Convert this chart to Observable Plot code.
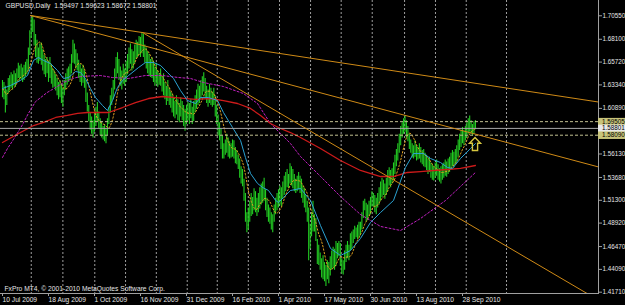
<!DOCTYPE html>
<html><head><meta charset="utf-8">
<script src="https://cdn.jsdelivr.net/npm/d3@7"></script>
<script src="https://cdn.jsdelivr.net/npm/@observablehq/plot@0.6"></script>
<style>html,body{margin:0;padding:0;background:#000;overflow:hidden}</style>
</head><body><div id="chart"></div>
<script>
// ---- data ----
const highs = [
1.638,1.636,1.632,1.628,1.640,1.643,1.646,1.644,1.648,1.645,
1.650,1.656,1.653,1.655,1.651,1.654,1.657,1.660,1.672,1.690,
1.703,1.705,1.701,1.686,1.680,1.672,1.676,1.677,1.670,1.664,
1.660,1.662,1.658,1.662,1.655,1.650,1.648,1.644,1.640,1.636,
1.638,1.634,1.630,1.638,1.645,1.650,1.652,1.655,1.665,1.680,
1.676,1.670,1.666,1.659,1.655,1.650,1.654,1.648,1.638,1.625,
1.612,1.604,1.600,1.596,1.603,1.610,1.615,1.605,1.598,1.595,
1.590,1.592,1.588,1.598,1.610,1.622,1.630,1.638,1.650,1.662,
1.667,1.660,1.652,1.648,1.655,1.650,1.658,1.665,1.672,1.676,
1.670,1.668,1.675,1.680,1.678,1.684,1.683,1.688,1.686,1.675,
1.672,1.668,1.665,1.660,1.662,1.658,1.652,1.656,1.648,1.645,
1.650,1.642,1.645,1.636,1.632,1.638,1.630,1.626,1.624,1.620,
1.616,1.622,1.618,1.614,1.620,1.616,1.612,1.608,1.612,1.615,
1.614,1.618,1.610,1.616,1.622,1.628,1.634,1.632,1.638,1.642,
1.646,1.640,1.632,1.628,1.634,1.630,1.626,1.630,1.622,1.612,
1.602,1.594,1.588,1.580,1.572,1.576,1.582,1.578,1.574,1.572,
1.576,1.575,1.568,1.565,1.560,1.556,1.548,1.545,1.535,1.520,
1.500,1.505,1.512,1.520,1.516,1.525,1.522,1.515,1.520,1.526,
1.530,1.532,1.536,1.524,1.515,1.508,1.505,1.500,1.498,1.508,
1.515,1.520,1.524,1.528,1.526,1.532,1.538,1.542,1.545,1.540,
1.551,1.548,1.545,1.540,1.535,1.538,1.542,1.538,1.535,1.528,
1.525,1.518,1.512,1.505,1.488,1.500,1.512,1.498,1.494,1.472,
1.466,1.458,1.452,1.455,1.448,1.445,1.450,1.448,1.454,1.460,
1.464,1.462,1.470,1.468,1.470,1.468,1.452,1.450,1.460,1.466,
1.470,1.466,1.478,1.480,1.482,1.486,1.484,1.487,1.490,1.490,
1.500,1.512,1.514,1.510,1.508,1.512,1.516,1.522,1.520,1.518,
1.515,1.520,1.526,1.532,1.536,1.534,1.530,1.536,1.544,1.547,
1.544,1.546,1.552,1.560,1.566,1.572,1.582,1.590,1.594,1.598,
1.601,1.596,1.590,1.582,1.576,1.572,1.570,1.575,1.570,1.568,
1.572,1.568,1.565,1.566,1.562,1.560,1.556,1.558,1.552,1.550,
1.548,1.552,1.555,1.550,1.546,1.548,1.550,1.552,1.555,1.553,
1.556,1.558,1.562,1.565,1.563,1.566,1.570,1.576,1.582,1.586,
1.589,1.585,1.590,1.594,1.598,1.601,1.596,1.592,1.595,1.59623];
const lows = [
1.620,1.618,1.604,1.612,1.624,1.627,1.630,1.628,1.632,1.631,
1.636,1.640,1.637,1.639,1.636,1.638,1.642,1.644,1.648,1.664,
1.682,1.688,1.674,1.662,1.656,1.655,1.658,1.654,1.648,1.644,
1.641,1.645,1.636,1.640,1.634,1.630,1.631,1.627,1.622,1.618,
1.620,1.614,1.610,1.622,1.628,1.633,1.636,1.638,1.645,1.656,
1.655,1.650,1.648,1.640,1.636,1.632,1.635,1.630,1.615,1.605,
1.595,1.586,1.582,1.578,1.584,1.590,1.595,1.588,1.580,1.578,
1.576,1.574,1.572,1.580,1.592,1.604,1.612,1.618,1.628,1.640,
1.645,1.638,1.632,1.628,1.634,1.632,1.636,1.644,1.650,1.655,
1.648,1.650,1.655,1.660,1.662,1.664,1.662,1.666,1.662,1.656,
1.650,1.645,1.642,1.641,1.640,1.636,1.632,1.634,1.631,1.633,
1.632,1.626,1.622,1.618,1.612,1.616,1.612,1.609,1.604,1.600,
1.598,1.602,1.596,1.594,1.600,1.596,1.590,1.585,1.592,1.596,
1.592,1.598,1.592,1.595,1.604,1.608,1.612,1.614,1.618,1.622,
1.626,1.620,1.614,1.610,1.614,1.612,1.610,1.612,1.600,1.592,
1.580,1.575,1.566,1.556,1.556,1.560,1.562,1.558,1.556,1.557,
1.558,1.556,1.551,1.550,1.545,1.536,1.530,1.527,1.512,1.490,
1.479,1.482,1.490,1.496,1.498,1.502,1.500,1.496,1.500,1.504,
1.508,1.510,1.512,1.502,1.495,1.490,1.488,1.482,1.479,1.490,
1.498,1.502,1.505,1.508,1.506,1.514,1.518,1.522,1.526,1.525,
1.530,1.528,1.525,1.522,1.520,1.522,1.524,1.520,1.515,1.510,
1.505,1.500,1.490,1.450,1.462,1.475,1.480,1.480,1.470,1.446,
1.445,1.440,1.432,1.430,1.428,1.423,1.430,1.426,1.434,1.440,
1.442,1.440,1.444,1.452,1.454,1.444,1.436,1.435,1.440,1.448,
1.452,1.450,1.460,1.462,1.468,1.472,1.474,1.472,1.474,1.476,
1.482,1.494,1.502,1.490,1.492,1.496,1.498,1.506,1.506,1.500,
1.498,1.505,1.508,1.512,1.516,1.518,1.514,1.518,1.522,1.528,
1.526,1.530,1.534,1.540,1.548,1.554,1.562,1.570,1.578,1.582,
1.584,1.578,1.574,1.566,1.562,1.557,1.556,1.558,1.554,1.555,
1.556,1.552,1.550,1.548,1.547,1.544,1.540,1.542,1.536,1.534,
1.533,1.536,1.538,1.534,1.532,1.530,1.534,1.536,1.538,1.537,
1.540,1.542,1.545,1.548,1.547,1.550,1.552,1.558,1.565,1.568,
1.572,1.570,1.575,1.578,1.582,1.584,1.582,1.580,1.582,1.58672];

// moving averages: [bar index, price]
const cyanMA = [[0,1.6296],[5.6,1.6328],[12.5,1.638],[17.4,1.6432],[21.6,1.6589],[25,1.662],[28.5,1.6589],[33.4,1.6557],[38.3,1.6484],[42.4,1.6401],[46,1.6411],[50.8,1.6474],[54.3,1.6463],[57.7,1.6401],[61.2,1.6296],[64.7,1.6202],[69.6,1.6119],[73,1.6067],[76.5,1.6171],[80,1.6307],[83.5,1.638],[87.7,1.6432],[94.6,1.6515],[99.5,1.6568],[105,1.6568],[110,1.6536],[114.8,1.6463],[119,1.6401],[123.8,1.6276],[128.7,1.6171],[134.3,1.614],[137.7,1.6202],[143.3,1.6202],[149.6,1.6171],[153.7,1.6046],[160,1.589],[165.6,1.5754],[169,1.5577],[172.5,1.541],[177.4,1.5306],[180.9,1.5264],[185,1.5233],[190,1.5128],[192,1.5107],[195.5,1.5159],[200.3,1.5232],[207.3,1.5253],[214.3,1.5128],[221.2,1.4867],[228.2,1.4627],[235.1,1.4554],[242.1,1.4606],[249,1.4731],[256,1.4898],[263,1.5003],[272,1.5128],[280.3,1.5472],[285.9,1.5618],[292.9,1.5618],[297.7,1.5566],[304.7,1.5524],[309.6,1.5472],[313,1.5462],[318.6,1.5566],[325.6,1.567],[329,1.5722]];
const redMA = [[0,1.5733],[12.5,1.5837],[21.6,1.591],[28.5,1.5942],[37,1.5994],[45.2,1.6015],[52.2,1.6036],[59.1,1.6046],[73.7,1.6046],[83.5,1.6098],[92.5,1.615],[101.6,1.6192],[111.3,1.6213],[120.3,1.6202],[134.3,1.6182],[144.7,1.6192],[153.7,1.6171],[163.5,1.614],[172.5,1.6088],[179.5,1.6015],[186.4,1.5931],[193.4,1.5879],[200.3,1.5837],[207.3,1.5785],[221.2,1.567],[235.1,1.5545],[249,1.5441],[263,1.5378],[272,1.5378],[281.7,1.542],[290.8,1.543],[299.8,1.5441],[309.6,1.5451],[318.6,1.5462],[329,1.5493]];
const magentaMA = [[0,1.5577],[3.5,1.5671],[9,1.5796],[14,1.5921],[18,1.6036],[23,1.616],[31,1.6254],[37,1.6307],[42.5,1.6359],[48.7,1.6401],[54.3,1.6422],[68,1.6432],[76.5,1.6411],[87.7,1.6401],[99.5,1.6432],[111.3,1.6432],[122.4,1.6411],[130.8,1.6401],[139.8,1.6359],[153.7,1.6317],[167.6,1.6244],[177.4,1.614],[186.4,1.5931],[195.5,1.5796],[200.3,1.5723],[207.3,1.5587],[221.2,1.5379],[235.1,1.5170],[249,1.4982],[263,1.4857],[276.9,1.4815],[290.8,1.4940],[308.2,1.5128],[329,1.5420]];

// trend lines: two anchor points each [bar index, price]
const trendA = [[19.5,1.7058],[97.4,1.688]];
const trendB = [[19.5,1.7058],[280.3,1.6015]];
const trendC = [[97.4,1.688],[140,1.6505]];

const priceTicks = [1.7055,1.681,1.6572,1.6334,1.6089,1.5613,1.5368,1.513,1.4892,1.4647,1.4409,1.4171];
const dateBars = [0,32,64,96,128,160,192,224,256,288,320];
const dateLabels = ["10 Jul 2009","18 Aug 2009","1 Oct 2009","16 Nov 2009","31 Dec 2009","16 Feb 2010","1 Apr 2010","17 May 2010","30 Jun 2010","13 Aug 2010","28 Sep 2010"];
const gridBars = [20,42,64.2,85.6,107,128.5,149.4,171,192.7,214.3,235.6,257.2,279.7,301.2,322.6,350.6];
const levelHigh = 1.59505, levelBid = 1.58801, levelLow = 1.58090;
const ohlc = [1.59497,1.59623,1.58672,1.58801];
const arrowMark = [{i:328.7, p:1.5717}];

// ---- layout ----
const W = 625, H = 305, mR = 27, mB = 12;
const pxPerBar = 1.4375, firstBarPx = 2;
const xDomain = [-firstBarPx/pxPerBar, (W - mR - firstBarPx)/pxPerBar];
const yDomain = [1.41574, 1.72146];

const bars = highs.map((h,i) => ({i, hi:h, lo:lows[i]}));
const toPts = a => a.map(([i,p]) => ({i,p}));
function ray(a){ const [[x1,y1],[x2,y2]] = a; const s=(y2-y1)/(x2-x1); return [{i:x1,p:y1},{i:xDomain[1],p:y1+s*(xDomain[1]-x1)}]; }
const fmt5 = d3.format(".5f");
const boxes = [{v:levelHigh, bg:"#c8c47a"},{v:levelBid, bg:"#e8e8e8"},{v:levelLow, bg:"#c8c47a"}];
const header = "GBPUSD,Daily\u00a0\u00a0" + ohlc.map(fmt5).join("\u00a0");

// outlined up-arrow symbol (MT4 arrow object)
const upArrow = {draw(ctx, size){ const r = Math.sqrt(size/Math.PI);
  const P = [[0,-1],[0.85,-0.12],[0.4,-0.12],[0.4,1],[-0.4,1],[-0.4,-0.12],[-0.85,-0.12]];
  P.forEach(([a,b],k)=> k ? ctx.lineTo(a*r,b*r) : ctx.moveTo(a*r,b*r)); ctx.closePath(); }};

const chart = Plot.plot({
  width: W, height: H, marginLeft: 0, marginRight: mR, marginTop: 0, marginBottom: mB,
  style: {background:"#000", color:"#e6e6e6", fontFamily:"'Liberation Sans', Arial, sans-serif", fontSize:"6.7px"},
  x: {domain: xDomain, label: null}, y: {domain: yDomain, label: null},
  marks: [
    Plot.ruleX(gridBars, {stroke:"#b8b8b8", strokeDasharray:"2,2", strokeOpacity:0.85}),
    Plot.ruleX(bars, {x:"i", y1:"lo", y2:"hi", stroke:"#22cc22", strokeWidth:1.1}),
    Plot.lineY(bars, Plot.windowY({k:8, anchor:"end"}, {x:"i", y:d=>(d.hi+d.lo)/2, stroke:"#e0a020", strokeWidth:1, strokeDasharray:"1.5,2"})),
    Plot.line(toPts(magentaMA), {x:"i", y:"p", stroke:"#c020c0", strokeWidth:1, strokeDasharray:"2,2"}),
    Plot.line(toPts(redMA), {x:"i", y:"p", stroke:"#cc1a1a", strokeWidth:1.3}),
    Plot.line(toPts(cyanMA), {x:"i", y:"p", stroke:"#2ba3d3", strokeWidth:1}),
    Plot.ruleY([levelHigh, levelLow], {stroke:"#c0bf90", strokeDasharray:"3,2"}),
    Plot.ruleY([levelBid], {stroke:"#a8a8a8"}),
    Plot.line(ray(trendA), {x:"i", y:"p", stroke:"#cf8a16", strokeWidth:1, clip:true}),
    Plot.line(ray(trendB), {x:"i", y:"p", stroke:"#cf8a16", strokeWidth:1, clip:true}),
    Plot.line(ray(trendC), {x:"i", y:"p", stroke:"#cf8a16", strokeWidth:1, clip:true}),
    Plot.dot(arrowMark, {x:"i", y:"p", r:6.5, symbol:upArrow, stroke:"#d8c840", strokeWidth:1.4, fill:"none"}),
    Plot.frame({anchor:"bottom", stroke:"#a0a0a0"}),
    Plot.frame({anchor:"right", stroke:"#a0a0a0"}),
    Plot.axisY(priceTicks, {anchor:"right", label:null, tickSize:3, tickPadding:1, tickFormat:fmt5, stroke:"#a0a0a0", fill:"#e6e6e6", textAnchor:"start", fontSize:6.3}),
    Plot.axisX(dateBars, {anchor:"bottom", label:null, tickSize:3, tickPadding:1, tickFormat:d=>dateLabels[dateBars.indexOf(d)], stroke:"#a0a0a0", fill:"#e6e6e6", textAnchor:"start"}),
    Plot.ruleY(boxes, {y:"v", x1:xDomain[1], x2:xDomain[1] + mR/pxPerBar, stroke:"bg", strokeWidth:7.5}),
    Plot.text(boxes, {y:"v", x:xDomain[1], text:d=>fmt5(d.v), fill:"#000", dx:3.5, textAnchor:"start", fontSize:6.3}),
    Plot.text([header], {frameAnchor:"top-left", dx:5, dy:3, textAnchor:"start", lineAnchor:"top", fill:"#e6e6e6"}),
    Plot.text(["FxPro MT4, \u00a9 2001-2010 MetaQuotes Software Corp."], {frameAnchor:"bottom-left", dx:4, dy:-3, textAnchor:"start", lineAnchor:"bottom", fill:"#e6e6e6"})
  ]
});
document.getElementById("chart").appendChild(chart);
</script>
</body></html>
